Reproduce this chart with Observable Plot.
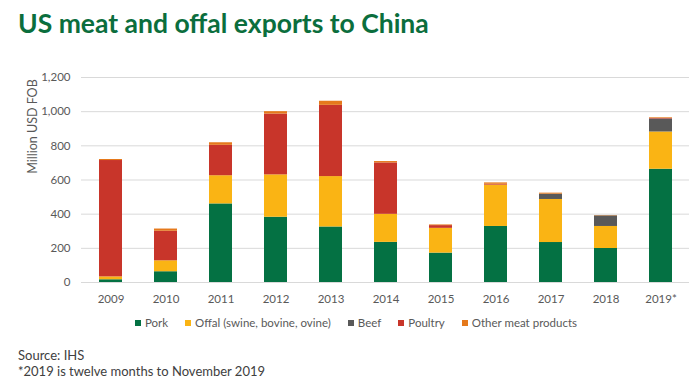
<!DOCTYPE html>
<html>
<head>
<meta charset="utf-8">
<script src="https://cdn.jsdelivr.net/npm/d3@7"></script>
<script src="https://cdn.jsdelivr.net/npm/@observablehq/plot@0.6"></script>
<style>
  html, body { margin: 0; padding: 0; background: #fff; }
  #wrap { width: 700px; height: 390px; position: relative; overflow: hidden; font-family: Lato, "Open Sans", sans-serif; }
  #title { height: 55px; box-sizing: border-box; padding: 8px 0 0 18px; font-size: 26.5px; font-weight: 700; color: #0b6e3d; line-height: 30px; white-space: nowrap; }
  #chart svg { display: block; }
  #legend { height: 16px; display: flex; justify-content: center; align-items: center; gap: 17px; font-size: 11.5px; color: #595959; padding-left: 12px; line-height: 16px; margin-top: 0px; }
  #legend .item { display: flex; align-items: center; gap: 4px; white-space: nowrap; }
  #legend .sw { width: 6px; height: 6px; display: inline-block; }
  #footer { position: absolute; left: 18px; top: 347px; font-size: 13px; line-height: 16px; color: #404040; }
</style>
</head>
<body>
<div id="wrap">
  <div id="title">US meat and offal exports to China</div>
  <div id="chart"></div>
  <div id="legend"></div>
  <div id="footer"><div>Source: IHS</div><div>*2019 is twelve months to November 2019</div></div>
</div>
<script>
const years = ["2009","2010","2011","2012","2013","2014","2015","2016","2017","2018","2019*"];
const pork    = [16, 63, 460, 382, 325, 235, 172, 328, 234, 199, 663];
const offal   = [17, 64, 165, 248, 295, 164, 145, 242, 252, 129, 218];
const beef    = [0, 0, 0, 0, 0, 0, 0, 0, 31, 62, 76];
const poultry = [681, 173, 178, 356, 417, 301, 16, 5, 0, 0, 3];
const other   = [6, 13, 15, 14, 24, 8, 4, 8, 6, 2, 4];
const seriesNames = ["Pork", "Offal (swine, bovine, ovine)", "Beef", "Poultry", "Other meat products"];
const seriesColors = ["#047143", "#fab414", "#595959", "#c8352a", "#e5791c"];
const yTicks = [0, 200, 400, 600, 800, 1000, 1200];
const yLabel = "Million USD FOB";

const seriesValues = [pork, offal, beef, poultry, other];
const table = years.flatMap((yr, i) => seriesNames.map((name, s) => ({year: yr, type: name, value: seriesValues[s][i]})));

const chart = Plot.plot({
  width: 700,
  height: 260,
  marginLeft: 81,
  marginRight: 11,
  marginTop: 22,
  marginBottom: 33,
  style: {fontFamily: "Lato, 'Open Sans', sans-serif", fontSize: "11.5px", color: "#595959", background: "#fff"},
  x: {domain: years, paddingInner: 0.59, paddingOuter: 0.295, label: null},
  y: {domain: [0, 1200], label: null},
  color: {domain: seriesNames, range: seriesColors},
  marks: [
    Plot.gridY(yTicks, {stroke: "#d9d9d9", strokeOpacity: 1, strokeWidth: 1}),
    Plot.barY(table, {x: "year", y: "value", fill: "type", order: seriesNames}),
    Plot.ruleY([0], {stroke: "#d9d9d9", strokeWidth: 1}),
    Plot.axisY(yTicks, {tickSize: 0, tickPadding: 11, tickFormat: d3.format(","), label: null, fill: "#595959"}),
    Plot.axisX({tickSize: 0, tickPadding: 12, label: null, fill: "#595959"}),
    Plot.text([yLabel], {text: d => d, frameAnchor: "top-left", rotate: -90, dx: -53, dy: 49, fontSize: 12.5, fill: "#595959", textAnchor: "middle"})
  ]
});
document.getElementById("chart").appendChild(chart);

const legend = d3.select("#legend");
seriesNames.forEach((name, i) => {
  const it = legend.append("div").attr("class", "item");
  it.append("span").attr("class", "sw").style("background", seriesColors[i]);
  it.append("span").text(name);
});
</script>
</body>
</html>
